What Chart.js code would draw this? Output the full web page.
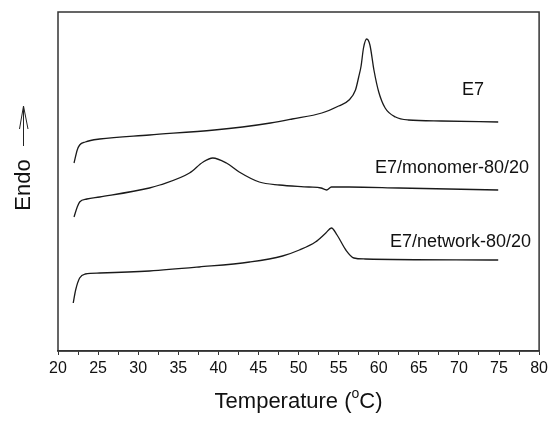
<!DOCTYPE html>
<html>
<head>
<meta charset="utf-8">
<script src="https://cdn.jsdelivr.net/npm/chart.js@4"></script>
<style>
  html, body { margin: 0; padding: 0; background: #fff; }
  #wrap { width: 552px; height: 422px; }
</style>
</head>
<body>
<div id="wrap"><canvas id="dscChart" width="552" height="422"></canvas></div>
<script>
// DSC traces (temperature in C, heat flow in arbitrary units)
const tempE7 = [22.0, 22.4, 22.7, 23.4, 25.2, 31.4, 39.5, 43.0, 46.5, 49.2, 52.9, 55.0, 56.3, 57.1, 57.5, 57.8, 58.1, 58.5, 58.9, 59.4, 60.0, 60.8, 62.1, 63.7, 67.8, 74.9];
const endoE7 = [188, 201, 206, 209, 212, 216, 221, 224, 228, 232, 238, 245, 251, 261, 274, 285, 303, 312, 306, 281, 259, 243, 234, 231, 230, 229];

const tempMonomer = [22.0, 22.4, 22.7, 23.6, 25.2, 31.4, 32.7, 36.4, 38.1, 39.3, 41.0, 42.6, 45.1, 47.6, 51.3, 52.8, 53.5, 54.1, 56.3, 62.5, 74.9];
const endoMonomer = [134, 144, 149, 152, 154, 163, 166, 178, 189, 193, 188, 179, 169, 166, 164, 163, 161, 164, 164, 163, 161];

const tempNetwork = [21.9, 22.2, 22.7, 23.4, 25.2, 31.4, 37.6, 43.9, 48.0, 50.1, 52.1, 53.4, 54.1, 54.8, 55.9, 56.9, 58.3, 74.9];
const endoNetwork = [48, 61, 73, 77, 78, 80, 84, 89, 95, 101, 109, 118, 123, 116, 101, 93, 92, 91];

const seriesNames = ['E7', 'E7/monomer-80/20', 'E7/network-80/20'];
const xTitle = 'Temperature (';
const yTitle = 'Endo';

function pairs(xs, ys) {
  return xs.map((x, i) => ({ x: x, y: ys[i] }));
}

const labelPos = [
  { x: 462, y: 90 },
  { x: 375, y: 168 },
  { x: 390, y: 242 }
];

const decorations = {
  id: 'decorations',
  afterDraw(chart) {
    const ctx = chart.ctx;
    const a = chart.chartArea;
    ctx.save();
    // frame
    ctx.strokeStyle = '#333';
    ctx.lineWidth = 1.5;
    ctx.strokeRect(a.left, a.top, a.right - a.left, a.bottom - a.top);

    ctx.fillStyle = '#111';
    ctx.textBaseline = 'middle';
    ctx.font = '18px "Liberation Sans", Arial, sans-serif';
    seriesNames.forEach((name, i) => {
      ctx.textAlign = 'left';
      ctx.fillText(name, labelPos[i].x, labelPos[i].y);
    });

    // x title with superscript o
    ctx.font = '22px "Liberation Sans", Arial, sans-serif';
    const supFont = '14px "Liberation Sans", Arial, sans-serif';
    const w1 = ctx.measureText(xTitle).width;
    const w3 = ctx.measureText('C)').width;
    ctx.font = supFont;
    const w2 = ctx.measureText('o').width;
    const total = w1 + w2 + w3;
    let x = (a.left + a.right) / 2 - total / 2;
    const y = 402;
    ctx.textAlign = 'left';
    ctx.font = '22px "Liberation Sans", Arial, sans-serif';
    ctx.fillText(xTitle, x, y);
    x += w1;
    ctx.font = supFont;
    ctx.fillText('o', x, y - 8);
    x += w2;
    ctx.font = '22px "Liberation Sans", Arial, sans-serif';
    ctx.fillText('C)', x, y);

    // y title, rotated
    ctx.save();
    ctx.translate(24, 185);
    ctx.rotate(-Math.PI / 2);
    ctx.textAlign = 'center';
    ctx.font = '22px "Liberation Sans", Arial, sans-serif';
    ctx.fillText(yTitle, 0, 0);
    ctx.restore();

    // upward arrow
    ctx.strokeStyle = '#222';
    ctx.lineWidth = 1;
    ctx.beginPath();
    ctx.moveTo(23.5, 146);
    ctx.lineTo(23.5, 106);
    ctx.moveTo(19.5, 129);
    ctx.lineTo(23.5, 106);
    ctx.lineTo(28, 129);
    ctx.stroke();
    ctx.restore();
  }
};

const lineStyle = {
  borderColor: '#1a1a1a',
  borderWidth: 1.3,
  pointRadius: 0,
  fill: false,
  cubicInterpolationMode: 'monotone'
};

new Chart(document.getElementById('dscChart').getContext('2d'), {
  type: 'line',
  data: {
    datasets: [
      Object.assign({ label: seriesNames[0], data: pairs(tempE7, endoE7) }, lineStyle),
      Object.assign({ label: seriesNames[1], data: pairs(tempMonomer, endoMonomer) }, lineStyle),
      Object.assign({ label: seriesNames[2], data: pairs(tempNetwork, endoNetwork) }, lineStyle)
    ]
  },
  options: {
    responsive: false,
    animation: false,
    layout: { padding: { left: 58, right: 11, top: 12, bottom: 0 } },
    plugins: { legend: { display: false }, tooltip: { enabled: false } },
    scales: {
      x: {
        type: 'linear',
        min: 20,
        max: 80,
        afterFit(scale) { scale.height = 71; },
        ticks: {
          stepSize: 2.5,
          autoSkip: false,
          maxRotation: 0,
          padding: 4,
          color: '#111',
          font: { family: '"Liberation Sans", Arial, sans-serif', size: 16 },
          callback: v => (v % 5 === 0 ? String(v) : '')
        },
        grid: { drawOnChartArea: false, drawTicks: true, tickLength: 4, color: '#333' },
        border: { display: true, color: '#333', width: 1.5 }
      },
      y: {
        type: 'linear',
        min: 0,
        max: 339,
        display: false
      }
    }
  },
  plugins: [decorations]
});
</script>
</body>
</html>
